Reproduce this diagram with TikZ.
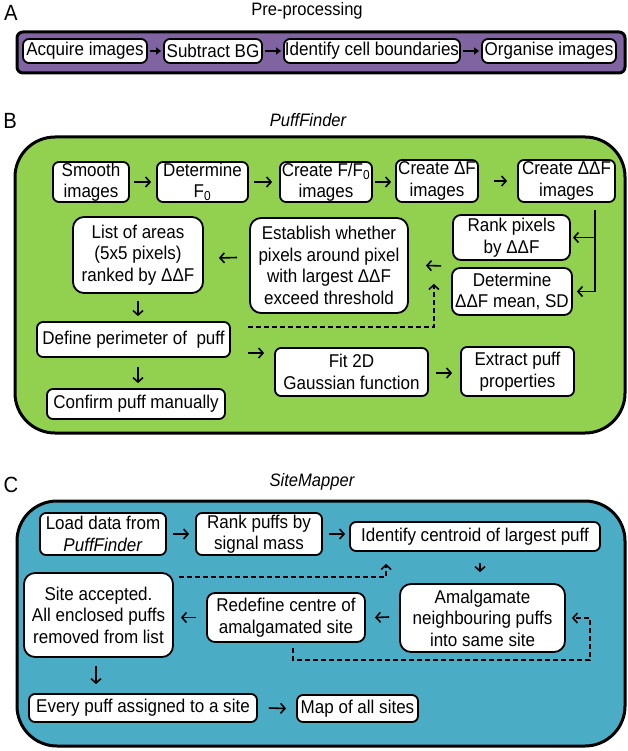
\documentclass[tikz,border=0pt]{standalone}
\usepackage{fontspec}
\setmainfont{Liberation Sans}[FakeStretch=0.92]
\usetikzlibrary{arrows.meta,calc}
\definecolor{prepurple}{RGB}{128,100,162}
\definecolor{findgreen}{RGB}{146,208,80}
\definecolor{mapblue}{RGB}{75,172,198}

\begin{document}
\begin{tikzpicture}[x=1pt,y=-1pt,
  box/.style={draw,line width=1.8pt,rounded corners=6pt,fill=white,align=center,inner sep=0pt,font=\fontsize{18.5}{21.5}\selectfont},
  bigbox/.style={box,rounded corners=11pt},
  panel/.style={draw,line width=3pt},
  lab/.style={font=\fontsize{22}{22}\selectfont},
  ttl/.style={font=\fontsize{18}{20}\selectfont},
  arr/.style={line width=1.6pt,-{Straight Barb[length=4.5pt,width=10pt]}},
  darr/.style={arr,dash pattern=on 5pt off 3pt},
  arrA/.style={line width=2.2pt,-{Triangle[length=5pt,width=7pt]},shorten <=2pt,shorten >=2pt}]
\useasboundingbox (0,0) rectangle (628,751);

% A: pre-processing
\node[lab] (labA) at (11,13) {A};
\node[ttl] (ttlA) at (307,11) {Pre-processing};
\draw[panel,fill=prepurple,rounded corners=6pt] (17,32) rectangle (625,73);
\node[box,minimum width=124pt,minimum height=24pt] (acq) at (85,51) {Acquire images};
\node[box,minimum width=98pt,minimum height=24pt] (sub) at (213,51) {Subtract BG};
\node[box,minimum width=176pt,minimum height=24pt] (ident) at (372,51) {Identify cell boundaries};
\node[box,minimum width=134pt,minimum height=24pt] (org) at (549,51) {Organise images};
\draw[arrA] (acq) -- (sub);
\draw[arrA] (sub) -- (ident);
\draw[arrA] (ident) -- (org);

% B: PuffFinder
\node[lab] (labB) at (10,121) {B};
\node[ttl] (ttlB) at (308,120) {\itshape PuffFinder};
\draw[panel,fill=findgreen,rounded corners=40pt] (15,137) rectangle (625,433);
\node[box,minimum width=76pt,minimum height=40pt] (smooth) at (91,182) {Smooth\\images};
\node[box,minimum width=91pt,minimum height=40pt] (detF) at (202.5,182) {Determine\\F\textsubscript{0}};
\node[box,minimum width=92pt,minimum height=40pt] (ratio) at (326,182) {Create F/F\textsubscript{0}\\images};
\node[box,minimum width=82pt,minimum height=42pt] (dF) at (437,181) {Create ΔF\\images};
\node[box,minimum width=97pt,minimum height=42pt] (ddF) at (566.5,181) {Create ΔΔF\\images};
\node[box,minimum width=117pt,minimum height=45pt,rounded corners=8pt] (rank) at (511.5,237.5) {Rank pixels\\by ΔΔF};
\node[box,minimum width=120pt,minimum height=47pt,rounded corners=8pt] (detSD) at (512,291.5) {Determine\\ΔΔF mean, SD};
\node[bigbox,minimum width=158pt,minimum height=95pt] (estab) at (329,265.5) {Establish whether\\pixels around pixel\\with largest ΔΔF\\exceed threshold};
\node[bigbox,minimum width=130pt,minimum height=76pt] (list) at (138,255) {List of areas\\(5x5 pixels)\\ranked by ΔΔF};
\node[box,minimum width=193pt,minimum height=35pt] (define) at (133.5,339.5) {Define perimeter of\ \ puff};
\node[box,minimum width=178pt,minimum height=30pt] (confirm) at (136,404) {Confirm puff manually};
\node[box,minimum width=153pt,minimum height=48pt] (fit) at (351.5,372) {Fit 2D\\Gaussian function};
\node[box,minimum width=113pt,minimum height=49pt] (extract) at (517.5,371.5) {Extract puff\\properties};
\coordinate (drop) at (595,210);
\draw[arr] ($(smooth.east)+(4,0)$) -- ($(detF.west)+(-5,0)$);
\draw[arr] ($(detF.east)+(5,0)$) -- ($(ratio.west)+(-7,0)$);
\draw[arr] ($(ratio.east)+(2,0)$) -- ($(dF.west |- ratio.east)+(-4,0)$);
\draw[arr] ($(dF.east)+(15,0)$) -- ($(ddF.west)+(-10,0)$);
\draw[arr] (drop) |- ($(detSD.east)+(4,0)$);
\draw[arr] (drop |- rank.east) -- ($(rank.east)+(2,0)$);
\draw[arr] ($(rank.south west)+(-11,5)$) -- ($(estab.east)+(17,0)$);
\draw[arr] ($(estab.west)+(-12,-8)$) -- ($(list.east)+(15,3)$);
\draw[arr] ($(list.south)+(0,7)$) -- ($(list.south |- define.north)+(0,-5)$);
\draw[arr] ($(list.south |- define.south)+(0,9)$) -- ($(list.south |- confirm.north)+(0,-5)$);
\draw[arr] ($(define.east)+(17,13.5)$) -- ($(fit.west)+(-10,-19)$);
\draw[arr] ($(fit.east)+(7,1)$) -- ($(extract.west)+(-8,1.5)$);
\draw[darr] ($(define.north east)+(17,6)$) -| ($(estab.south east)+(25,-30)$);

% C: SiteMapper
\node[lab] (labC) at (11,485) {C};
\node[ttl] (ttlC) at (312,482) {\itshape SiteMapper};
\draw[panel,fill=mapblue,rounded corners=40pt] (17,501) rectangle (625,746);
\node[box,minimum width=126pt,minimum height=42pt] (load) at (103,534) {Load data from\\\textit{PuffFinder}};
\node[box,minimum width=126pt,minimum height=42pt] (rankp) at (259,534) {Rank puffs by\\signal mass};
\node[box,minimum width=250pt,minimum height=29pt] (centroid) at (475,536.5) {Identify centroid of largest puff};
\node[bigbox,minimum width=149pt,minimum height=84pt] (site) at (98.5,615) {Site accepted.\\All enclosed puffs\\removed from list};
\node[box,minimum width=158pt,minimum height=49pt,rounded corners=8pt] (redef) at (286,617.5) {Redefine centre of\\amalgamated site};
\node[bigbox,minimum width=165pt,minimum height=68pt] (amalg) at (482.5,618) {Amalgamate\\neighbouring puffs\\into same site};
\node[box,minimum width=228pt,minimum height=28pt] (every) at (143,708) {Every puff assigned to a site};
\node[box,minimum width=121pt,minimum height=27pt] (map) at (357.5,708.5) {Map of all sites};
\draw[arr] ($(load.east)+(6,0)$) -- ($(rankp.west)+(-6,0)$);
\draw[arr] ($(rankp.east)+(6,0)$) -- ($(centroid.west |- rankp.east)+(-4,0)$);
\draw[arr] ($(centroid.south)+(5,11)$) -- ($(amalg.north)+(-2.5,-11)$);
\draw[darr] ($(site.north east)+(5,5)$) -| ($(centroid.south west)+(37,12)$);
\draw[arr] ($(amalg.west)+(-10,-1)$) -- ($(redef.east)+(9,0)$);
\draw[arr] ($(redef.west)+(-10,0)$) -- ($(site.east |- redef.west)+(7,0)$);
\draw[darr] ($(redef.south)+(7,5)$) -- ++(0,12) -| ($(amalg.east)+(24,0)$) -- ($(amalg.east)+(6,0)$);
\draw[arr] ($(site.south)+(-2.5,8)$) -- ($(site.south |- every.north)+(-2.5,-9)$);
\draw[arr] ($(every.east)+(11,0)$) -- ($(map.west)+(-10,0)$);

\end{tikzpicture}
\end{document}
